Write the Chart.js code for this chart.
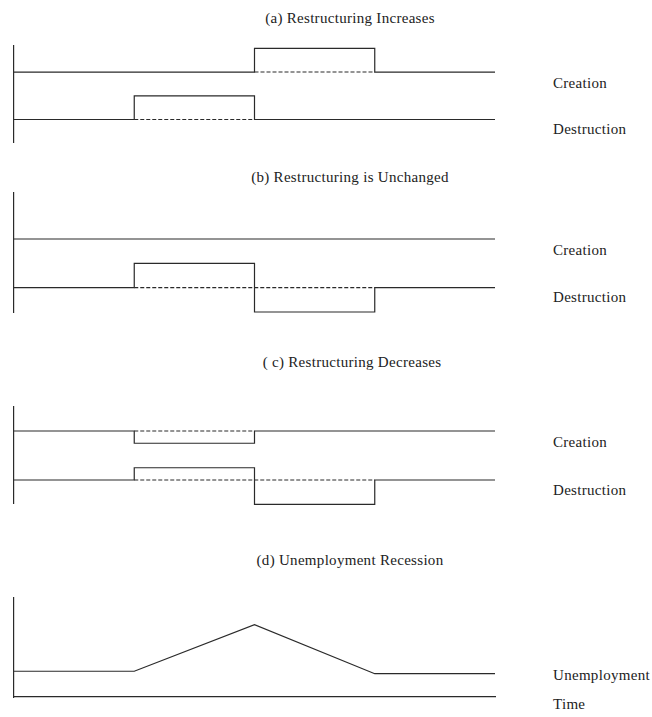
<!DOCTYPE html>
<html>
<head>
<meta charset="utf-8">
<script src="https://cdn.jsdelivr.net/npm/chart.js@4.4.0/dist/chart.umd.min.js"></script>
<style>
  body { margin: 0; background: #fff; }
  #page { position: relative; width: 652px; height: 717px; overflow: hidden;
          font-family: 'Liberation Serif', 'Times New Roman', serif; color: #222; }
  .title, .label { position: absolute; font-size: 15px; letter-spacing: 0.3px; line-height: 1; white-space: nowrap; }
  .title { transform: translate(-50%, -50%); }
  .label { transform: translateY(-50%); }
  canvas { position: absolute; left: 0; }
</style>
</head>
<body>
<div id="page">
  <div class="title" style="left:350px; top:18px">(a) Restructuring Increases</div>
  <canvas id="panelA" width="505" height="110" style="top:40px"></canvas>
  <div class="label" style="left:553px; top:83px">Creation</div>
  <div class="label" style="left:553px; top:129px">Destruction</div>

  <div class="title" style="left:350px; top:177px">(b) Restructuring is Unchanged</div>
  <canvas id="panelB" width="505" height="133" style="top:187px"></canvas>
  <div class="label" style="left:553px; top:250px">Creation</div>
  <div class="label" style="left:553px; top:297px">Destruction</div>

  <div class="title" style="left:352px; top:362px">( c) Restructuring Decreases</div>
  <canvas id="panelC" width="505" height="110" style="top:401px"></canvas>
  <div class="label" style="left:553px; top:442px">Creation</div>
  <div class="label" style="left:553px; top:490px">Destruction</div>

  <div class="title" style="left:350px; top:560px">(d) Unemployment Recession</div>
  <canvas id="panelD" width="505" height="113" style="top:592px"></canvas>
  <div class="label" style="left:553px; top:675px">Unemployment</div>
  <div class="label" style="left:553px; top:704px">Time</div>
</div>
<script>
// time periods (x) shared by every panel
const periods = [0, 1, 2, 3, 4];

// (a) restructuring increases
const creationA = [2, 2, 3, 2, 2];
const creationDashA = [null, null, 2, 2, null];
const destructionA = [0, 1, 0, 0, 0];
const destructionDashA = [null, 0, 0, null, null];

// (b) restructuring unchanged
const creationB = [2, 2, 2, 2, 2];
const destructionB = [0, 1, -1, 0, 0];
const destructionDashB = [null, 0, 0, 0, null];

// (c) restructuring decreases
const creationC = [2, 1.5, 2, 2, 2];
const creationDashC = [null, 2, 2, null, null];
const destructionC = [0, 0.5, -1, 0, 0];
const destructionDashC = [null, 0, 0, 0, null];

// (d) unemployment recession
const unemployment = [1.05, 1.05, 2.95, 0.95, 0.95];

const ink = '#2a2a2a';

function pts(arr) {
  return periods.map((t, i) => ({ x: t, y: arr[i] }));
}

// level i holds from period i to period i+1
function solid(arr, stepped) {
  return { data: pts(arr), stepped: stepped ? 'before' : false, borderColor: ink, borderWidth: 1.2, clip: false };
}

function dashed(arr) {
  return { data: pts(arr), borderColor: ink, borderWidth: 1.1, borderDash: [4, 2], clip: false };
}

function makePanel(id, datasets, yMin, yMax, showTime) {
  new Chart(document.getElementById(id), {
    type: 'line',
    data: { datasets: datasets },
    options: {
      responsive: false,
      animation: false,
      devicePixelRatio: 1,
      layout: { padding: { left: 14, right: 10, top: 6, bottom: 8 } },
      plugins: { legend: { display: false }, tooltip: { enabled: false } },
      elements: { point: { radius: 0 } },
      scales: {
        x: {
          type: 'linear', min: 0, max: 4, display: showTime,
          grid: { display: false, drawTicks: false },
          ticks: { display: false },
          border: { display: true, color: ink, width: 1.2 },
          afterFit: s => { s.height = 0; }
        },
        y: {
          min: yMin, max: yMax,
          grid: { display: false, drawTicks: false },
          ticks: { display: false },
          border: { display: true, color: ink, width: 1.2 },
          afterFit: s => { s.width = 0; }
        }
      }
    }
  });
}

makePanel('panelA', [
  solid(creationA, true), dashed(creationDashA),
  solid(destructionA, true), dashed(destructionDashA)
], -0.95, 3.1, false);

makePanel('panelB', [
  solid(creationB, true),
  solid(destructionB, true), dashed(destructionDashB)
], -1.0, 3.89, false);

makePanel('panelC', [
  solid(creationC, true), dashed(creationDashC),
  solid(destructionC, true), dashed(destructionDashC)
], -0.94, 2.98, false);

makePanel('panelD', [
  solid(unemployment, false)
], 0, 4.04, true);
</script>
</body>
</html>
